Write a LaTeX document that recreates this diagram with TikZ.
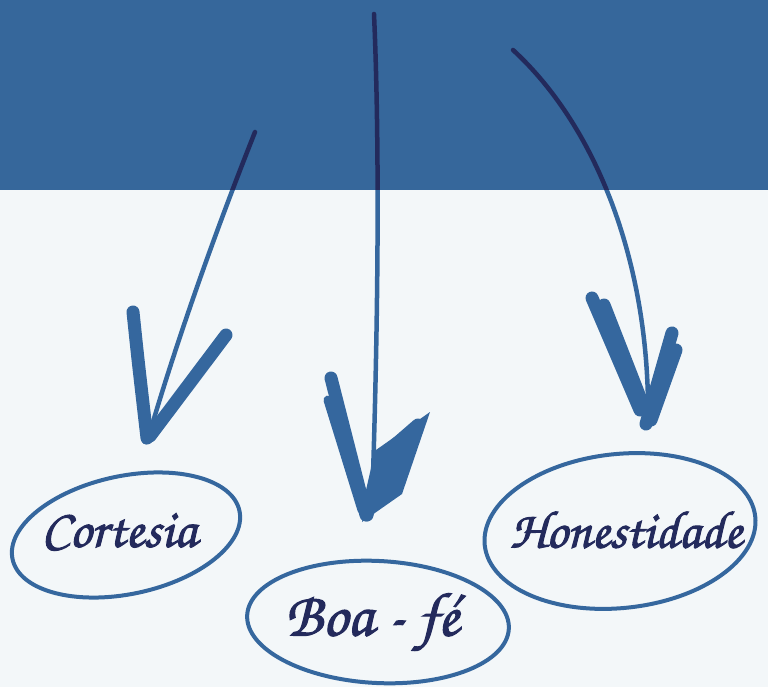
\documentclass[tikz,border=0pt]{standalone}
\usepackage{fontspec}
\newfontfamily\scr[FakeBold=1.8]{texgyrechorus-mediumitalic.otf}
\definecolor{band}{HTML}{36679B}
\definecolor{bg}{HTML}{F3F7F9}
\definecolor{ink}{HTML}{35679E}
\definecolor{navy}{HTML}{232A5C}
\tikzset{
  shaft/.style={line width=4.5pt, line cap=round},
  headstroke/.style={line width=13pt, line cap=round, line join=round},
  ring/.style={draw=ink, line width=4pt},
  word/.style={text=navy, inner sep=0pt}
}
\begin{document}
\begin{tikzpicture}[x=1pt,y=-1pt]
\useasboundingbox (0,0) rectangle (768,687);
\fill[bg] (0,0) rectangle (768,687);
\fill[band] (0,0) rectangle (768,190);
% arrows
\def\arrowsall#1{%
  % arrow 1
  \draw[#1,shaft] (255,132) .. controls (220,220) and (180,330) .. (150,432);
  \draw[#1,headstroke] (133,312) .. controls (138,360) .. (147,438);
  \draw[#1,headstroke] (226,335) -- (150,436);
  \draw[#1,line width=9pt,line cap=round] (215,352) -- (146,440);
  % arrow 2
  \draw[#1,shaft] (374,14) .. controls (380,150) and (378,330) .. (372,505);
  \draw[#1,headstroke] (331,378) -- (366,515);
  \draw[#1,line width=9pt,line cap=round] (328,400) -- (362,510);
  \fill[#1] (430,412) -- (376,450) -- (362,522) -- (402,494) -- cycle;
  \draw[#1,headstroke] (418,425) -- (380,458) -- (367,515);
  % arrow 3
  \draw[#1,shaft] (513,50) .. controls (600,130) and (650,270) .. (648,420);
  \draw[#1,headstroke] (592,298) -- (640,410);
  \draw[#1,headstroke] (604,305) -- (643,405);
  \draw[#1,headstroke] (672,333) -- (646,424);
  \draw[#1,headstroke] (676,350) -- (651,420);
}
\arrowsall{ink}
\begin{scope}
  \clip (0,0) rectangle (768,190);
  \arrowsall{navy}
\end{scope}
% ellipses and words
\draw[ring, rotate around={12:(126,535)}] (126,535) ellipse (116 and 59);
\draw[ring, rotate around={-3:(378,622)}] (378,622) ellipse (131 and 61);
\draw[ring, rotate around={6:(620,531)}] (620,531) ellipse (136 and 77);
\node[word, font=\scr\fontsize{54}{54}\selectfont] (cortesia) at (119,532) {Cortesia};
\node[word, font=\scr\fontsize{62}{62}\selectfont] (boafe) at (372,622) {Boa - fé};
\node[word, font=\scr\fontsize{53}{53}\selectfont] (honest) at (626,530) {Honestidade};
\end{tikzpicture}
\end{document}
